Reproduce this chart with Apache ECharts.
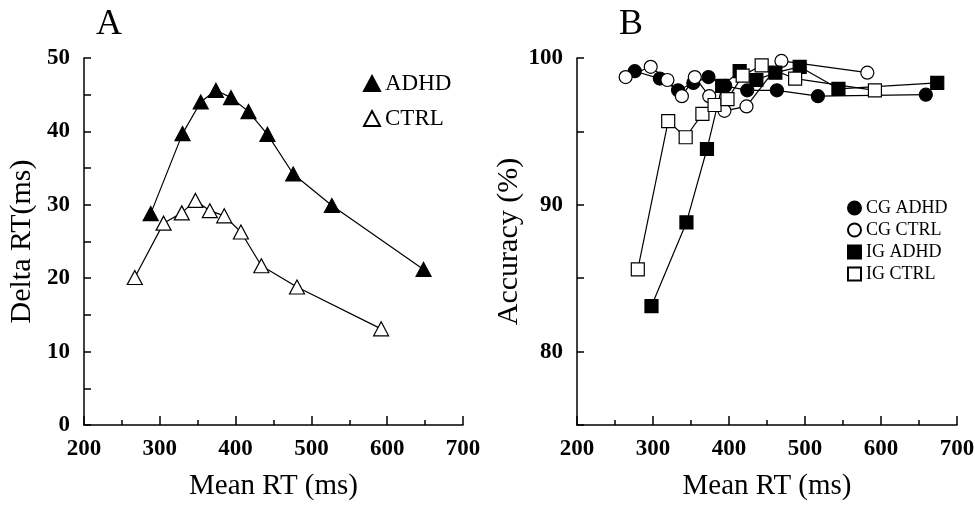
<!DOCTYPE html>
<html>
<head>
<meta charset="utf-8">
<script src="https://cdn.jsdelivr.net/npm/echarts@6/dist/echarts.min.js"></script>
<style>
  html, body { margin: 0; padding: 0; background: #fff; }
  #main { width: 975px; height: 507px; }
</style>
</head>
<body>
<div id="main"></div>
<script>
// Panel A: delta RT vs mean RT
var adhdA_x = [288, 330, 354, 374, 394, 417, 442, 476, 527, 648];
var adhdA_y = [28.8, 39.7, 44.0, 45.6, 44.6, 42.7, 39.6, 34.2, 29.9, 21.2];
var ctrlA_x = [267, 305, 329, 347, 366, 385, 407, 434, 481, 592];
var ctrlA_y = [20.1, 27.5, 28.9, 30.6, 29.2, 28.5, 26.3, 21.7, 18.8, 13.1];

// Panel B: accuracy vs mean RT
var cgAdhd_x = [276, 309, 333, 353, 373, 395, 424, 463, 517, 659];
var cgAdhd_y = [99.1, 98.6, 97.8, 98.3, 98.7, 98.1, 97.8, 97.8, 97.4, 97.5];
var cgCtrl_x = [264, 297, 319, 338, 355, 374, 394, 423, 469, 582];
var cgCtrl_y = [98.7, 99.4, 98.5, 97.4, 98.7, 97.4, 96.4, 96.7, 99.8, 99.0];
var igAdhd_x = [298, 344, 371, 391, 414, 436, 461, 493, 544, 674];
var igAdhd_y = [83.1, 88.8, 93.8, 98.1, 99.1, 98.5, 99.0, 99.4, 97.9, 98.3];
var igCtrl_x = [280, 320, 343, 365, 381, 398, 418, 443, 487, 592];
var igCtrl_y = [85.6, 95.7, 94.6, 96.2, 96.8, 97.2, 98.8, 99.5, 98.6, 97.8];

var xTicks = [200, 300, 400, 500, 600, 700];

function pairs(xs, ys) {
  return xs.map(function (x, i) { return [x, ys[i]]; });
}

var chart = echarts.init(document.getElementById('main'));
var serif = 'Liberation Serif';

function xAxisFor(gridIndex) {
  return {
    type: 'value',
    gridIndex: gridIndex,
    min: xTicks[0],
    max: xTicks[xTicks.length - 1],
    interval: 100,
    name: 'Mean RT (ms)',
    nameLocation: 'middle',
    nameGap: 47,
    nameTextStyle: { fontFamily: serif, fontSize: 29, color: '#000' },
    axisLine: { lineStyle: { color: '#000', width: 1.5 } },
    axisTick: { inside: true, length: 9, lineStyle: { color: '#000', width: 1.5 } },
    minorTick: { show: true, splitNumber: 2, length: 5, lineStyle: { color: '#000', width: 1.5 } },
    axisLabel: { margin: 13, fontFamily: serif, fontWeight: 'bold', fontSize: 23, color: '#000' },
    splitLine: { show: false }
  };
}

function yAxisFor(gridIndex, min, max, name, gap) {
  return {
    type: 'value',
    gridIndex: gridIndex,
    min: min,
    max: max,
    interval: 5,
    name: name,
    nameLocation: 'middle',
    nameGap: gap,
    nameTextStyle: { fontFamily: serif, fontSize: 30, color: '#000' },
    axisLine: { show: true, lineStyle: { color: '#000', width: 1.5 } },
    axisTick: { inside: true, length: 7, lineStyle: { color: '#000', width: 1.5 } },
    axisLabel: {
      margin: 14, fontFamily: serif, fontWeight: 'bold', fontSize: 23, color: '#000',
      formatter: function (v) { return v % 10 === 0 ? String(v) : ''; }
    },
    splitLine: { show: false }
  };
}

function lineSeries(name, xi, yi, data, symbol, size, fill) {
  return {
    name: name,
    type: 'line',
    xAxisIndex: xi,
    yAxisIndex: yi,
    data: data,
    symbol: symbol,
    symbolSize: size,
    showAllSymbol: true,
    lineStyle: { color: '#000', width: 1.2 },
    itemStyle: { color: fill, borderColor: '#000', borderWidth: 1.2 }
  };
}

var option = {
  animation: false,
  backgroundColor: '#fff',
  title: [
    { text: 'A', left: 91, top: 2, textStyle: { fontFamily: serif, fontSize: 36, fontWeight: 'normal', color: '#000' } },
    { text: 'B', left: 614, top: 2, textStyle: { fontFamily: serif, fontSize: 36, fontWeight: 'normal', color: '#000' } }
  ],
  grid: [
    { left: 84, right: 512, top: 58, bottom: 82, outerBoundsMode: 'none' },
    { left: 577, right: 18, top: 58, bottom: 82, outerBoundsMode: 'none' }
  ],
  legend: [
    {
      data: [{ name: 'ADHD', icon: 'triangle' }, { name: 'CTRL', icon: 'triangle' }],
      orient: 'vertical',
      left: 358,
      top: 67,
      itemWidth: 16,
      itemHeight: 15,
      itemGap: 12,
      textStyle: { fontFamily: serif, fontSize: 23, color: '#000' }
    },
    {
      data: [
        { name: 'CG ADHD', icon: 'circle' },
        { name: 'CG CTRL', icon: 'circle' },
        { name: 'IG ADHD', icon: 'rect' },
        { name: 'IG CTRL', icon: 'rect' }
      ],
      orient: 'vertical',
      left: 842,
      top: 194,
      itemWidth: 13,
      itemHeight: 13,
      itemGap: 4,
      textStyle: { fontFamily: serif, fontSize: 18, color: '#000' }
    }
  ],
  xAxis: [xAxisFor(0), xAxisFor(1)],
  yAxis: [
    yAxisFor(0, 0, 50, 'Delta RT(ms)', 47),
    yAxisFor(1, 75, 100, 'Accuracy (%)', 52)
  ],
  series: [
    lineSeries('ADHD', 0, 0, pairs(adhdA_x, adhdA_y), 'triangle', [15, 14], '#000'),
    lineSeries('CTRL', 0, 0, pairs(ctrlA_x, ctrlA_y), 'triangle', [15, 14], '#fff'),
    lineSeries('CG ADHD', 1, 1, pairs(cgAdhd_x, cgAdhd_y), 'circle', 13, '#000'),
    lineSeries('CG CTRL', 1, 1, pairs(cgCtrl_x, cgCtrl_y), 'circle', 13, '#fff'),
    lineSeries('IG ADHD', 1, 1, pairs(igAdhd_x, igAdhd_y), 'rect', 13, '#000'),
    lineSeries('IG CTRL', 1, 1, pairs(igCtrl_x, igCtrl_y), 'rect', 13, '#fff')
  ]
};

chart.setOption(option);
</script>
</body>
</html>
